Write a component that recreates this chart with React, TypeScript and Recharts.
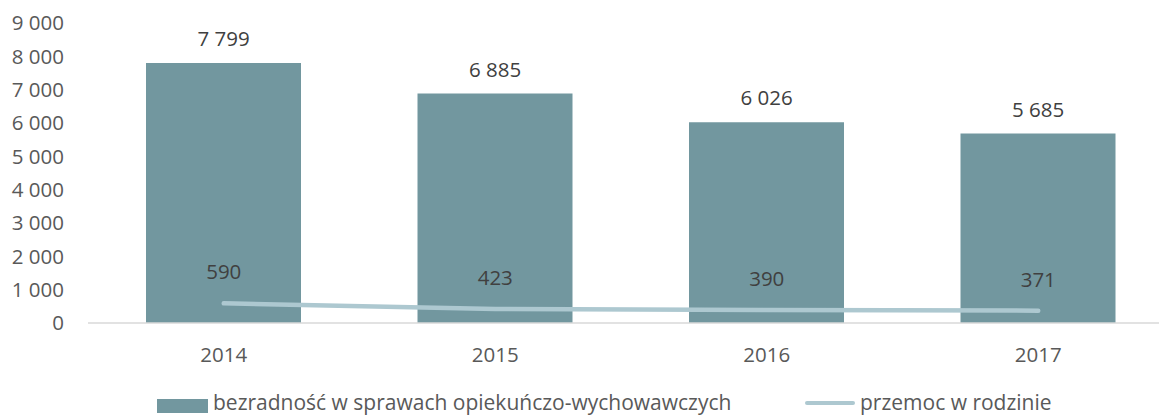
import { ComposedChart, Bar, Line, XAxis, YAxis, LabelList } from 'recharts';

const years = ['2014', '2015', '2016', '2017'];
const bezradnosc = [7799, 6885, 6026, 5685];
const przemoc = [590, 423, 390, 371];
const yTicks = [0, 1000, 2000, 3000, 4000, 5000, 6000, 7000, 8000, 9000];

const data = years.map((year, i) => ({
  year,
  bezradnosc: bezradnosc[i],
  przemoc: przemoc[i]
}));

const BAR_COLOR = '#72979f';
const LINE_COLOR = '#adc8d0';
const FONT = '"Open Sans", "DejaVu Sans", sans-serif';
const FS = 20.5;

// separator tysięcy: spacja
const fmt = (v: number | string) => String(v).replace(/\B(?=(\d{3})+(?!\d))/g, ' ');

const legendText = { position: 'absolute' as const, top: 392, fontSize: 21, lineHeight: '21px', color: '#595959', whiteSpace: 'nowrap' as const };

export default function App() {
  return (
    <div style={{ position: 'absolute', left: 0, top: 0, width: 1159, height: 418, overflow: 'hidden', fontFamily: FONT, background: '#fff' }}>
      <ComposedChart
        width={1159}
        height={418}
        data={data}
        margin={{ top: 23, right: -15, left: 0, bottom: 65 }}
      >
        <XAxis
          dataKey="year"
          axisLine={{ stroke: '#d9d9d9', strokeWidth: 1.5 }}
          tickLine={false}
          tickSize={0}
          tickMargin={24}
          height={30}
          tick={{ fontSize: FS, fill: '#595959', fontFamily: FONT }}
        />
        <YAxis
          domain={[0, 9000]}
          ticks={yTicks}
          interval={0}
          width={88}
          axisLine={false}
          tickLine={false}
          tickSize={0}
          tickMargin={24}
          tickFormatter={fmt}
          tick={{ fontSize: FS, fill: '#595959', fontFamily: FONT }}
        />
        <Bar dataKey="bezradnosc" fill={BAR_COLOR} barSize={155} isAnimationActive={false}>
          <LabelList dataKey="bezradnosc" position="top" offset={17} formatter={fmt}
            style={{ fontSize: FS, fill: '#404040', fontFamily: FONT }} />
        </Bar>
        <Line
          dataKey="przemoc"
          stroke={LINE_COLOR}
          strokeWidth={4.5}
          strokeLinecap="round"
          dot={false}
          activeDot={false}
          type="linear"
          isAnimationActive={false}
        >
          <LabelList dataKey="przemoc" position="top" offset={24} formatter={fmt}
            style={{ fontSize: FS, fill: '#404040', fontFamily: FONT }} />
        </Line>
      </ComposedChart>
      {/* legenda */}
      <div style={{ position: 'absolute', left: 157, top: 399, width: 51, height: 14, background: BAR_COLOR }} />
      <div style={{ ...legendText, left: 213 }}>bezradność w sprawach opiekuńczo-wychowawczych</div>
      <div style={{ position: 'absolute', left: 805, top: 401, width: 50, height: 4, background: LINE_COLOR, borderRadius: 2 }} />
      <div style={{ ...legendText, left: 860 }}>przemoc w rodzinie</div>
    </div>
  );
}
